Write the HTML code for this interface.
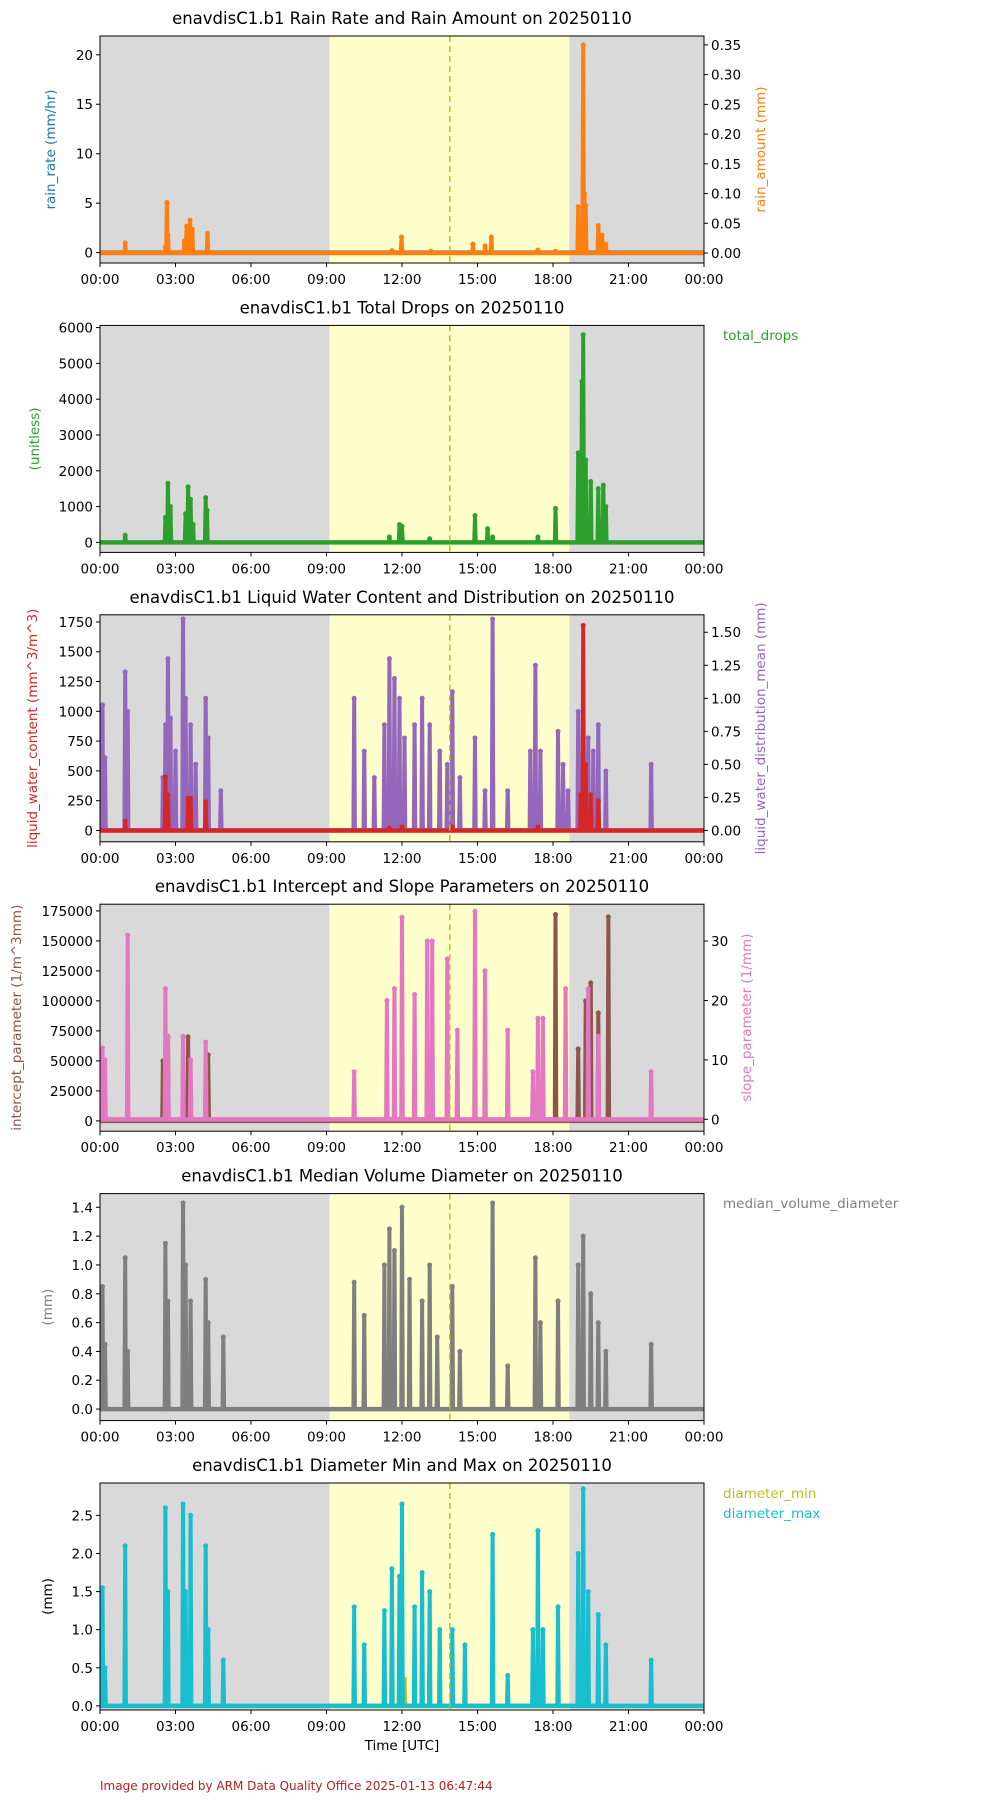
<!DOCTYPE html>
<html><head><meta charset="utf-8"><style>
html,body{margin:0;padding:0;background:#fff;}
svg{display:block;font-family:"DejaVu Sans","Liberation Sans",sans-serif;}
</style></head><body>
<svg id="chart" width="1000" height="1800" viewBox="0 0 1000 1800" xmlns="http://www.w3.org/2000/svg"></svg>
<script>
// ---- data (hour of day, value) ----
const xTickLabels = ["00:00","03:00","06:00","09:00","12:00","15:00","18:00","21:00","00:00"];
const nightEnd = 9.12, nightStart = 18.65, nowHour = 13.9;
const rainAmount = [[1.0,0.017],[2.6,0.01],[2.66,0.085],[2.7,0.03],[3.35,0.02],[3.44,0.045],[3.58,0.055],[3.67,0.04],[4.27,0.033],[11.6,0.004],[11.98,0.027],[13.15,0.003],[14.82,0.015],[15.3,0.012],[15.55,0.027],[17.4,0.005],[18.1,0.003],[19.0,0.078],[19.2,0.35],[19.25,0.1],[19.3,0.08],[19.8,0.046],[19.95,0.03],[20.1,0.015]];
const totalDrops = [[1.0,200],[2.6,700],[2.7,1650],[2.8,1000],[3.4,800],[3.5,1550],[3.6,1200],[3.7,500],[4.2,1250],[4.25,900],[11.5,150],[11.9,500],[12.0,450],[13.1,100],[14.9,750],[15.4,380],[15.6,150],[17.4,150],[18.1,950],[19.0,2500],[19.15,4500],[19.2,5800],[19.3,2300],[19.5,1700],[19.8,1500],[20.0,1600],[20.1,1000]];
const lwc = [[1.0,80],[2.6,450],[2.7,300],[3.5,270],[3.6,270],[4.2,240],[11.5,20],[12.0,30],[14.0,30],[17.4,30],[19.1,300],[19.2,1720],[19.3,550],[19.5,300],[19.8,250]];
const dmean = [[0.1,0.95],[0.2,0.55],[1.0,1.2],[1.1,0.9],[2.5,0.4],[2.6,0.8],[2.7,1.3],[2.8,0.85],[3.0,0.6],[3.3,1.6],[3.4,1.0],[3.6,0.8],[3.8,0.5],[4.2,1.0],[4.3,0.7],[4.8,0.3],[10.1,1.0],[10.5,0.6],[10.9,0.4],[11.3,0.8],[11.5,1.3],[11.7,1.15],[11.9,1.0],[12.1,0.7],[12.5,0.8],[12.8,1.0],[13.1,0.8],[13.5,0.6],[13.8,0.5],[14.0,1.05],[14.3,0.4],[14.9,0.7],[15.3,0.3],[15.6,1.6],[16.2,0.3],[17.1,0.6],[17.3,1.25],[17.5,0.6],[18.2,0.75],[18.4,0.5],[18.6,0.3],[19.0,0.9],[19.2,1.1],[19.4,0.7],[19.6,0.6],[19.8,0.8],[20.1,0.45],[21.9,0.5]];
const intercept = [[2.5,50000],[2.7,70000],[3.5,70000],[4.3,55000],[12.0,10000],[13.1,10000],[17.4,10000],[18.1,172000],[19.0,60000],[19.3,100000],[19.5,115000],[19.8,90000],[20.2,170000]];
const slope = [[0.1,12],[0.2,10],[1.1,31],[2.6,22],[2.7,14],[3.3,14],[3.6,10],[4.2,13],[10.1,8],[11.4,20],[11.7,22],[12.0,34],[12.5,21],[13.0,30],[13.2,30],[13.8,27],[14.2,15],[14.9,35],[15.3,25],[16.2,15],[17.2,8],[17.4,17],[17.6,17],[18.5,22],[19.4,22],[19.8,14],[21.9,8]];
const mvd = [[0.1,0.85],[0.2,0.45],[1.0,1.05],[1.1,0.4],[2.6,1.15],[2.7,0.75],[3.3,1.43],[3.4,1.0],[3.6,0.75],[4.2,0.9],[4.3,0.6],[4.9,0.5],[10.1,0.88],[10.5,0.65],[11.3,1.0],[11.5,1.25],[11.7,1.1],[12.0,1.4],[12.3,0.9],[12.8,0.75],[13.1,1.0],[13.4,0.5],[14.0,0.85],[14.3,0.4],[15.6,1.43],[16.2,0.3],[17.3,1.05],[17.5,0.6],[18.2,0.75],[19.0,1.0],[19.2,1.2],[19.5,0.8],[19.8,0.6],[20.1,0.4],[21.9,0.45]];
const dmax = [[0.1,1.55],[0.2,0.5],[1.0,2.1],[2.6,2.6],[2.7,1.5],[3.3,2.65],[3.4,1.5],[3.6,2.5],[4.2,2.1],[4.3,1.0],[4.9,0.6],[10.1,1.3],[10.5,0.8],[11.3,1.25],[11.6,1.8],[11.9,1.7],[12.0,2.65],[12.5,1.3],[12.8,1.75],[13.1,1.5],[13.5,1.0],[14.0,1.0],[14.5,0.8],[15.6,2.25],[16.2,0.4],[17.2,1.0],[17.4,2.3],[17.6,1.0],[18.2,1.3],[19.0,2.0],[19.2,2.85],[19.4,1.5],[19.8,1.2],[20.1,0.8],[21.9,0.6]];
const dmin = [[0.2,0.3],[1.0,0.2],[2.6,0.2],[3.5,0.2],[4.3,0.2],[11.9,0.5],[12.1,0.35],[17.4,0.3],[19.3,0.2]];
const ticks1L=[0,5,10,15,20], ticks1R=[0,0.05,0.1,0.15,0.2,0.25,0.3,0.35];
const ticks2=[0,1000,2000,3000,4000,5000,6000];
const ticks3L=[0,250,500,750,1000,1250,1500,1750], ticks3R=[0,0.25,0.5,0.75,1.0,1.25,1.5];
const ticks4L=[0,25000,50000,75000,100000,125000,150000,175000], ticks4R=[0,10,20,30];
const ticks5=[0,0.2,0.4,0.6,0.8,1.0,1.2,1.4];
const ticks6=[0,0.5,1.0,1.5,2.0,2.5];

const NS="http://www.w3.org/2000/svg", svg=document.getElementById('chart');
const X0=100,X1=704,H=227;
function el(tag,attrs,parent,text){const e=document.createElementNS(NS,tag);for(const k in attrs)e.setAttribute(k,attrs[k]);if(text!==undefined)e.textContent=text;(parent||svg).appendChild(e);return e;}
const xs=h=>X0+(h/24)*(X1-X0);
function yScale(top,lo,hi){return v=>top+H-(v-lo)/(hi-lo)*H;}
function panel(i,title){
  const top=36+289.4*i;
  const g=el('g',{});
  
  
  let r=el('rect',{x:X0,y:top,width:X1-X0,height:H,fill:'#d9d9d9'},g);
  
  r=el('rect',{x:xs(nightEnd),y:top,width:xs(nightStart)-xs(nightEnd),height:H,fill:'#ffffcc'},g);
  
  let t=el('text',{x:(X0+X1)/2,y:top-12,'text-anchor':'middle','font-size':16.5,fill:'#000'},g,title);
  
  return {g,top};
}
function frame(p){
  const {g,top}=p;
  let l=el('line',{x1:xs(nowHour),x2:xs(nowHour),y1:top,y2:top+H,stroke:'#bcbd22','stroke-width':1.5,'stroke-dasharray':'6,4'},g);
  
  let r=el('rect',{x:X0,y:top,width:X1-X0,height:H,fill:'none',stroke:'#000','stroke-width':1},g);
  
  xTickLabels.forEach((lab,k)=>{const x=xs(k*3);
    el('line',{x1:x,x2:x,y1:top+H,y2:top+H+4,stroke:'#000'},g);
    const tx=el('text',{x:x,y:top+H+21,'text-anchor':'middle','font-size':13.5},g,lab);
    });
}
function yAxis(p,ticks,ys,side,fmt){
  const {g}=p;
  ticks.forEach(v=>{const y=ys(v);
    if(side==='L'){el('line',{x1:X0-4,x2:X0,y1:y,y2:y,stroke:'#000'},g);
      const t=el('text',{x:X0-7,y:y+5,'text-anchor':'end','font-size':13.5},g,fmt(v));
      }
    else{el('line',{x1:X1,x2:X1+4,y1:y,y2:y,stroke:'#000'},g);
      const t=el('text',{x:X1+7,y:y+5,'text-anchor':'start','font-size':13.5},g,fmt(v));
      }});
}
function ylabel(p,x,text,color,name){
  const cy=p.top+H/2;
  const t=el('text',{x:x,y:cy,'text-anchor':'middle','font-size':13.5,fill:color,transform:`rotate(-90 ${x} ${cy})`},p.g,text);
  
}
function series(p,data,ys,color,name){
  const pts=[[0,0]];
  data.forEach(([h,v])=>{pts.push([h-0.05,0],[h-0.02,v],[h+0.02,v],[h+0.05,0]);});
  pts.push([24,0]);
  const d=pts.map((q,k)=>(k?'L':'M')+xs(q[0]).toFixed(1)+','+ys(q[1]).toFixed(1)).join(' ');
  const base=el('line',{x1:X0,x2:X1,y1:ys(0),y2:ys(0),stroke:color,'stroke-width':4.5},p.g);
  
  const path=el('path',{d:d,fill:'none',stroke:color,'stroke-width':3,'stroke-linejoin':'round'},p.g);
  
  data.forEach(([h,v])=>{const c=el('circle',{cx:xs(h),cy:ys(v),r:2.5,fill:color},p.g);
    });
}
function legend(x,y,text,color){const t=el('text',{x:x,y:y,'font-size':13.5,fill:color},svg,text);
  }
const f0=v=>String(v), f2=v=>v.toFixed(2), f1=v=>v.toFixed(1);

// panel 1
let p=panel(0,'enavdisC1.b1 Rain Rate and Rain Amount on 20250110');
let yl=yScale(p.top,-1.05,21.9), yr=yScale(p.top,-0.0168,0.365);
series(p,[],yl,'#1f77b4','rain-rate');
series(p,rainAmount,yr,'#ff7f0e','rain-amount');
frame(p); yAxis(p,ticks1L,yl,'L',f0); yAxis(p,ticks1R,yr,'R',f2);
ylabel(p,55,'rain_rate (mm/hr)','#1f77b4','y-axis-title');ylabel(p,765,'rain_amount (mm)','#ff7f0e','y2-axis-title');
// panel 2
p=panel(1,'enavdisC1.b1 Total Drops on 20250110');
yl=yScale(p.top,-280,6061);
series(p,totalDrops,yl,'#2ca02c','total-drops');
frame(p); yAxis(p,ticks2,yl,'L',f0);
ylabel(p,39,'(unitless)','#2ca02c','y-axis-title'); legend(723,340,'total_drops','#2ca02c');
// panel 3
p=panel(2,'enavdisC1.b1 Liquid Water Content and Distribution on 20250110');
yl=yScale(p.top,-95,1810); yr=yScale(p.top,-0.086,1.632);
series(p,dmean,yr,'#9467bd','distribution-mean');
series(p,lwc,yl,'#d62728','liquid-water-content');
frame(p); yAxis(p,ticks3L,yl,'L',f0); yAxis(p,ticks3R,yr,'R',f2);
ylabel(p,37,'liquid_water_content (mm^3/m^3)','#d62728','y-axis-title');ylabel(p,765,'liquid_water_distribution_mean (mm)','#9467bd','y2-axis-title');
// panel 4
p=panel(3,'enavdisC1.b1 Intercept and Slope Parameters on 20250110');
yl=yScale(p.top,-8600,180600); yr=yScale(p.top,-2.0,36.2);
series(p,intercept,yl,'#8c564b','intercept-parameter');
series(p,slope,yr,'#e377c2','slope-parameter');
frame(p); yAxis(p,ticks4L,yl,'L',f0); yAxis(p,ticks4R,yr,'R',f0);
ylabel(p,21,'intercept_parameter (1/m^3mm)','#8c564b','y-axis-title');ylabel(p,751,'slope_parameter (1/mm)','#e377c2','y2-axis-title');
// panel 5
p=panel(4,'enavdisC1.b1 Median Volume Diameter on 20250110');
yl=yScale(p.top,-0.08,1.495);
series(p,mvd,yl,'#7f7f7f','median-volume-diameter');
frame(p); yAxis(p,ticks5,yl,'L',f1);
ylabel(p,52,'(mm)','#7f7f7f','y-axis-title'); legend(723,1208,'median_volume_diameter','#7f7f7f');
// panel 6
p=panel(5,'enavdisC1.b1 Diameter Min and Max on 20250110');
yl=yScale(p.top,-0.054,2.925);
series(p,dmin,yl,'#bcbd22','diameter-min');
series(p,dmax,yl,'#17becf','diameter-max');
frame(p); yAxis(p,ticks6,yl,'L',f1);
ylabel(p,52,'(mm)','#000','y-axis-title');
legend(723,1498,'diameter_min','#bcbd22'); legend(723,1518,'diameter_max','#17becf');
let t=el('text',{x:402,y:1750,'text-anchor':'middle','font-size':13.5},svg,'Time [UTC]');

t=el('text',{x:100,y:1790,'font-size':12,fill:'#b22222'},svg,'Image provided by ARM Data Quality Office 2025-01-13 06:47:44');

</script>
</body></html>
